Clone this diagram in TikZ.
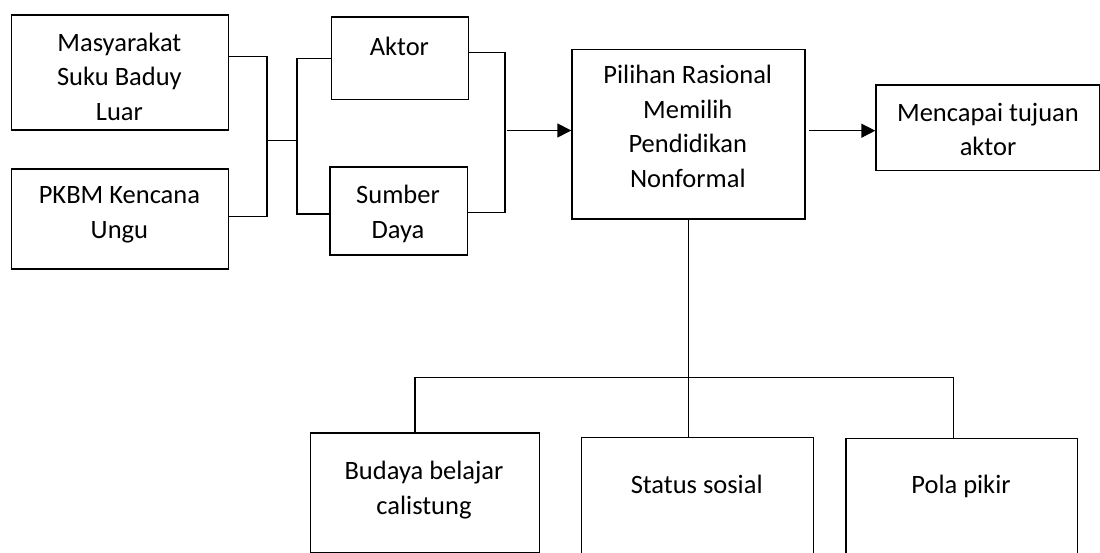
\documentclass[tikz,border=0pt]{standalone}
\usepackage{fontspec}
\setmainfont{Carlito}
\usetikzlibrary{arrows.meta}
\begin{document}
\begin{tikzpicture}[x=1pt,y=-1pt,
  box/.style={draw=black, line width=1.4pt, rectangle, inner sep=0pt, anchor=north west},
  txt/.style={align=center, inner sep=0pt, font=\fontsize{26.5}{34.5}\selectfont},
  link/.style={line width=1.4pt},
  arr/.style={line width=1.4pt, -{Triangle[length=14pt,width=14pt]}}]
\useasboundingbox (0,0) rectangle (1100,553);
\clip (0,0) rectangle (1100,553);
% boxes
\node[box, minimum width=216.7pt, minimum height=115pt]   (m)  at (11,14.3) {};
\node[box, minimum width=216.7pt, minimum height=99.8pt]  (p)  at (11,168.5) {};
\node[box, minimum width=136.7pt, minimum height=82.4pt]  (a)  at (331,16.3) {};
\node[box, minimum width=137.4pt, minimum height=87.8pt]  (s)  at (329.3,166.5) {};
\node[box, minimum width=233pt,   minimum height=169.5pt] (r)  at (571.3,49) {};
\node[box, minimum width=224pt,   minimum height=85.7pt]  (g)  at (875.3,84.3) {};
\node[box, minimum width=228.7pt, minimum height=119.4pt] (b)  at (310,432.3) {};
\node[box, minimum width=232pt,   minimum height=130pt]   (st) at (580.8,437) {};
\node[box, minimum width=231.7pt, minimum height=130pt]   (pl) at (845.3,438) {};
% texts
\node[txt] (mt)  at (119.4,76.6) {Masyarakat\\Suku Baduy\\Luar};
\node[txt] (pt)  at (119.4,215) {PKBM Kencana\\Ungu};
\node[txt] (at)  at (399.4,46) {Aktor};
\node[txt] (stx) at (398,214) {Sumber\\Daya};
\node[txt] (rt)  at (687.8,126.5) {Pilihan Rasional\\Memilih\\Pendidikan\\Nonformal};
\node[txt] (gt)  at (988,129.3) {Mencapai tujuan\\aktor};
\node[txt] (bt)  at (424,490) {Budaya belajar\\calistung};
\node[txt] (sst) at (696.7,484) {Status sosial};
\node[txt] (plt) at (961,486.5) {Pola pikir};
% junction coordinates
\coordinate (jm) at (267,56.7);
\coordinate (jp) at (267,216.7);
\coordinate (jc) at (267,140.7);
\coordinate (kc) at (297,140.7);
\coordinate (ka) at (297,58.7);
\coordinate (ks) at (297,214);
\coordinate (la) at (505,52.7);
\coordinate (ls) at (505,212.7);
\coordinate (lo) at (506.5,130.5);
\coordinate (ro) at (809.3,130.7);
\coordinate (hl) at (415,377.5);
\coordinate (hr) at (953.3,377.5);
% connectors
\draw[link] (m.east |- jm) -- (jm) -- (jp) -- (p.east |- jp);
\draw[link] (jc) -- (kc);
\draw[link] (a.west |- ka) -- (ka) -- (ks) -- (s.west |- ks);
\draw[link] (a.east |- la) -- (la) -- (ls) -- (s.east |- ls);
\draw[arr] (lo) -- (r.west |- lo);
\draw[arr] (ro) -- (g.west |- ro);
\draw[link] (r.south) -- (r.south |- st.north);
\draw[link] (b.north -| hl) -- (hl) -- (hr) -- (pl.north -| hr);
\end{tikzpicture}
\end{document}
